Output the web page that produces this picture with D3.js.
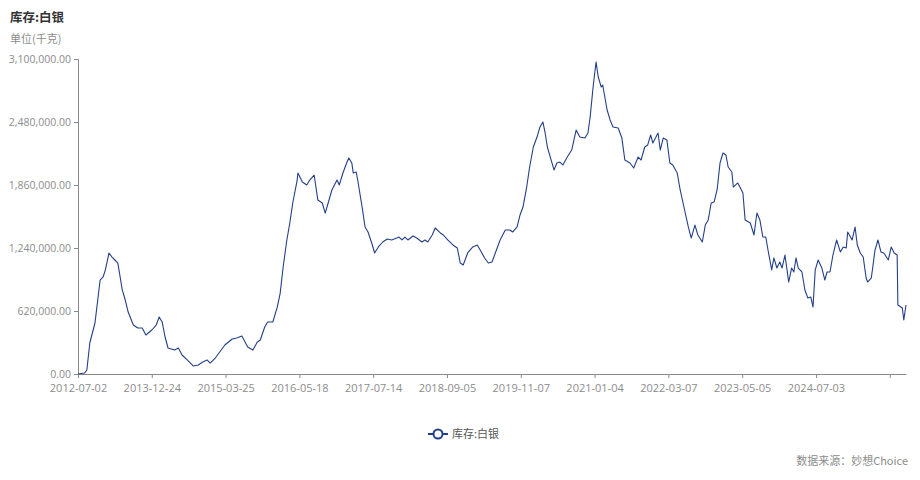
<!DOCTYPE html>
<html><head><meta charset="utf-8">
<script src="https://cdn.jsdelivr.net/npm/d3@7"></script>
<style>
html,body{margin:0;padding:0;background:#fff;}
svg{display:block;font-family:"Noto Sans CJK SC","Noto Sans",sans-serif;}
</style></head>
<body><svg id="c" width="920" height="480"></svg>
<script>
// category index positions (100 categories between labelled ticks) and values (千克)
const dayIdx = [0,9,12,16,23,30,34,37,42,46,50,54,60,64,68,75,81,87,92,100,106,110,114,118,122,131,136,141,148,156,163,169,175,179,186,192,199,209,215,222,230,237,243,247,253,257,264,270,274,278,283,287,291,297,298,304,310,314,320,325,331,335,339,344,351,354,359,364,367,371,373,377,379,385,389,393,398,402,407,413,419,425,432,435,439,443,447,454,459,466,470,474,480,484,491,495,501,508,514,518,522,528,535,541,545,551,556,561,568,572,579,585,589,595,599,603,608,612,617,622,626,630,633,636,640,645,649,653,657,663,669,675,680,687,691,694,698,702,705,709,711,717,721,725,732,737,741,748,753,759,763,768,772,776,779,786,789,793,798,802,806,812,816,822,827,831,836,840,846,850,854,858,862,866,870,874,878,881,886,888,894,897,901,904,911,916,920,924,928,932,935,940,943,947,951,954,958,963,967,970,973,976,981,985,989,993,996,999,1003,1008,1012,1015,1019,1023,1028,1033,1037,1041,1043,1049,1053,1056,1060,1064,1068,1070,1075,1077,1080,1084,1088,1092,1098,1102,1106,1110,1111,1117,1119,1122];
const stock = [0,10000,39000,305000,502000,925000,955000,1023000,1191000,1151000,1122000,1092000,827000,728000,610000,482000,453000,453000,384000,433000,482000,561000,512000,364000,256000,236000,256000,187000,138000,79000,89000,118000,138000,108000,157000,217000,285000,344000,354000,374000,266000,236000,315000,335000,463000,512000,512000,659000,797000,1053000,1319000,1486000,1683000,1909000,1978000,1889000,1860000,1909000,1958000,1712000,1683000,1584000,1683000,1811000,1909000,1860000,1978000,2077000,2126000,2077000,1978000,1988000,1909000,1643000,1447000,1397000,1289000,1191000,1250000,1299000,1329000,1319000,1338000,1348000,1319000,1348000,1319000,1358000,1338000,1299000,1319000,1299000,1368000,1437000,1388000,1368000,1319000,1270000,1240000,1092000,1073000,1191000,1250000,1270000,1220000,1142000,1092000,1102000,1240000,1319000,1417000,1417000,1397000,1447000,1565000,1643000,1840000,2037000,2234000,2332000,2431000,2480000,2372000,2234000,2135000,2008000,2077000,2086000,2057000,2135000,2204000,2401000,2332000,2322000,2372000,2529000,2824000,3070000,2923000,2824000,2844000,2598000,2500000,2431000,2421000,2322000,2106000,2077000,2027000,2135000,2106000,2234000,2254000,2352000,2273000,2372000,2204000,2322000,2303000,2077000,2057000,1978000,1811000,1614000,1447000,1338000,1466000,1368000,1299000,1466000,1516000,1683000,1693000,1811000,2077000,2175000,2155000,2037000,1988000,1840000,1880000,1840000,1781000,1516000,1486000,1368000,1584000,1516000,1348000,1348000,1220000,1024000,1142000,1043000,1102000,1043000,1171000,905000,1043000,1004000,1142000,1043000,1004000,827000,748000,758000,659000,1024000,1122000,1043000,925000,1004000,1004000,1171000,1319000,1201000,1250000,1240000,1397000,1319000,1447000,1270000,1191000,1151000,945000,905000,945000,1053000,1220000,1319000,1201000,1191000,1122000,1250000,1191000,1171000,679000,650000,531000,679000];
const xTickIdx = [0,100,200,300,400,500,600,700,800,900,1000,1100];
const xTickLabels = ["2012-07-02","2013-12-24","2015-03-25","2016-05-18","2017-07-14","2018-09-05","2019-11-07","2021-01-04","2022-03-07","2023-05-05","2024-07-03",""];
const yTicks = [0,620000,1240000,1860000,2480000,3100000];
const title = "库存:白银";
const unit = "单位(千克)";
const seriesName = "库存:白银";
const source = "数据来源：妙想Choice";

const svg = d3.select("#c");
const L = 78, R = 906, T = 59, B = 374;
const x = d3.scaleLinear().domain([0, 1122]).range([L, R]);
const y = d3.scaleLinear().domain([0, 3100000]).range([B, T]);
const axisCol = "#8a8a8a", txtCol = "#8c8c8c";

svg.append("text").attr("x", 10).attr("y", 22).attr("font-size", 12.5).attr("font-weight", "bold").attr("fill", "#333").text(title);
svg.append("text").attr("x", 10).attr("y", 43).attr("font-size", 11).attr("fill", txtCol).text(unit);

// y axis
const ya = svg.append("g").attr("transform", `translate(${L},0)`)
  .call(d3.axisLeft(y).tickValues(yTicks).tickFormat(d3.format(",.2f")).tickSize(4).tickPadding(3));
ya.select(".domain").attr("stroke", axisCol);
ya.selectAll(".tick line").attr("stroke", axisCol);
ya.selectAll(".tick text").attr("fill", txtCol).attr("font-size", 10.5).attr("font-family", "'Open Sans','Noto Sans',sans-serif");

// x axis
const xa = svg.append("g").attr("transform", `translate(0,${B})`)
  .call(d3.axisBottom(x).tickValues(xTickIdx).tickFormat((d, i) => xTickLabels[i]).tickSize(4).tickSizeOuter(0).tickPadding(6.5));
xa.select(".domain").attr("stroke", axisCol);
xa.selectAll(".tick line").attr("stroke", axisCol);
xa.selectAll(".tick text").attr("fill", txtCol).attr("font-size", 11).attr("font-family", "'Open Sans','Noto Sans',sans-serif");

// line
const data = dayIdx.map((d, i) => [d, stock[i]]);
const lineCol = "#233f86";
svg.append("path").datum(data)
  .attr("fill", "none").attr("stroke", lineCol).attr("stroke-width", 1.1).attr("stroke-linejoin", "round")
  .attr("d", d3.line().x(d => x(d[0])).y(d => y(d[1])));

// legend
const lg = svg.append("g").attr("transform", "translate(428,434)");
lg.append("line").attr("x1", 0).attr("x2", 20).attr("y1", 0).attr("y2", 0).attr("stroke", lineCol).attr("stroke-width", 2);
lg.append("circle").attr("cx", 10).attr("cy", 0).attr("r", 4.5).attr("fill", "#fff").attr("stroke", lineCol).attr("stroke-width", 2);
lg.append("text").attr("x", 24).attr("y", 4).attr("font-size", 11).attr("fill", "#555").text(seriesName);

svg.append("text").attr("x", 908).attr("y", 465).attr("text-anchor", "end").attr("font-size", 11).attr("fill", txtCol).text(source);
</script></body></html>
